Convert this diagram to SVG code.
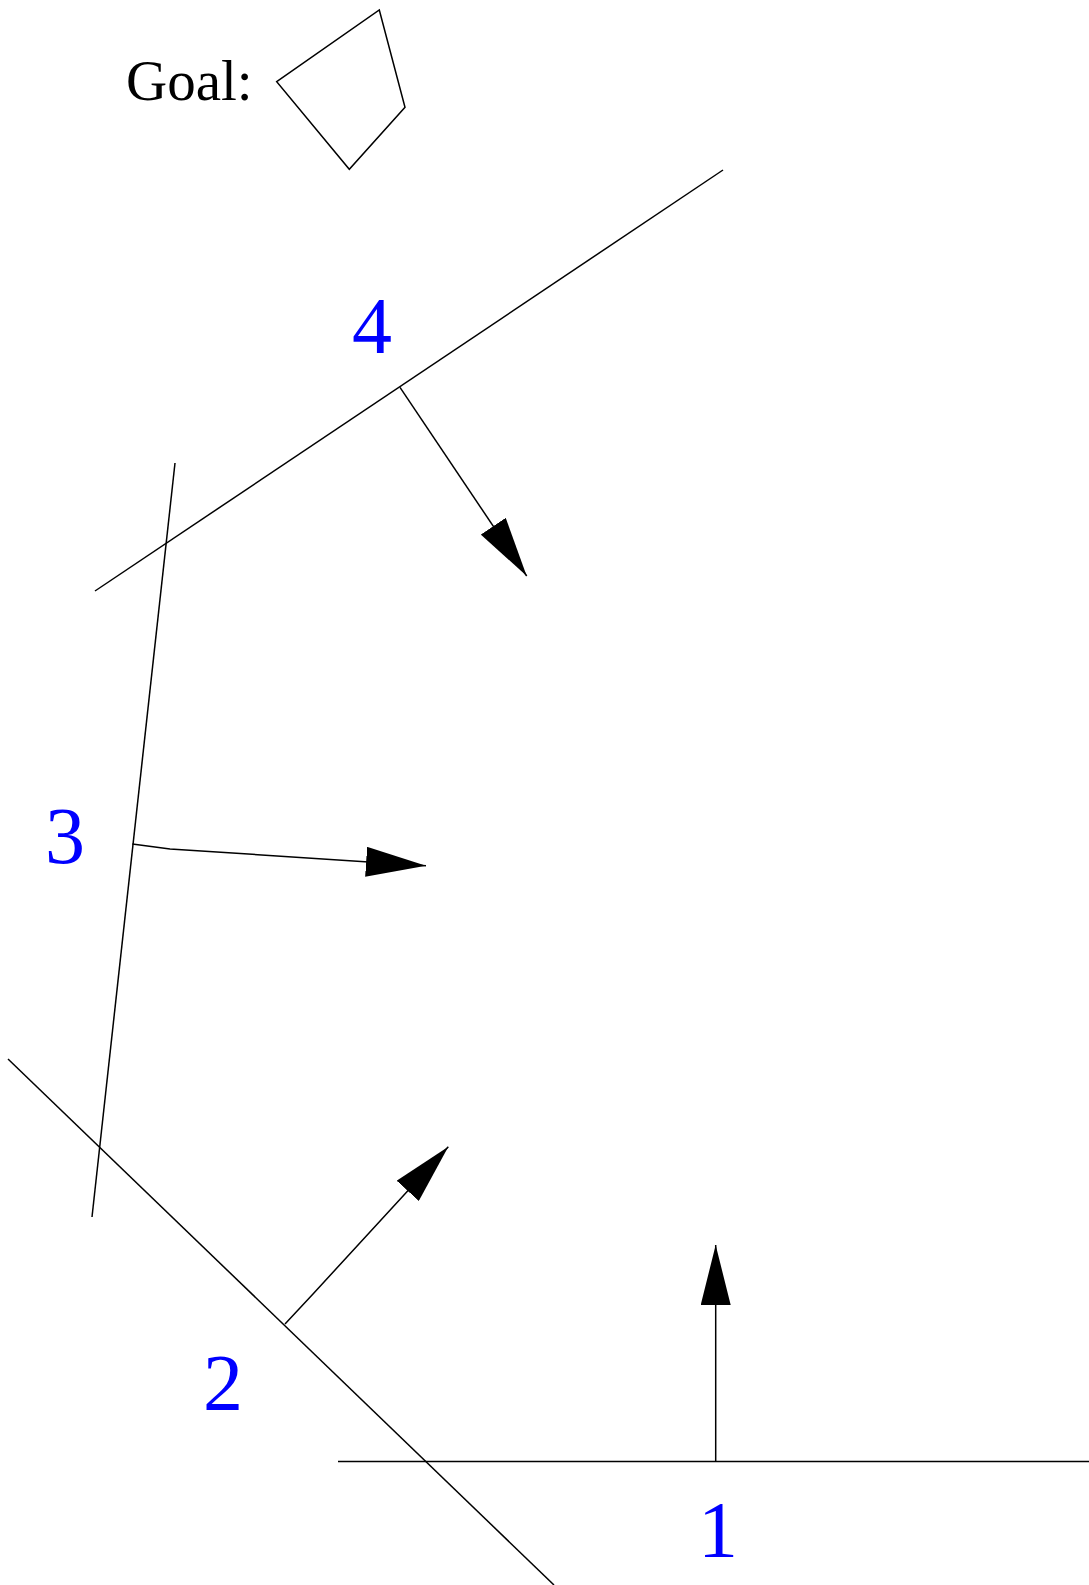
<svg xmlns="http://www.w3.org/2000/svg" width="1089" height="1585" viewBox="0 0 1089 1585">
<style>
.ln{fill:none;stroke:#000;stroke-width:1.5}
.arr{fill:none;stroke:#000;stroke-width:1.5;marker-end:url(#ah)}
.num{font-family:"Liberation Serif","DejaVu Serif",serif;font-size:80px;fill:#0000ff;text-anchor:middle}
.goal{font-family:"Liberation Serif","DejaVu Serif",serif;font-size:57px;fill:#000}
</style>
<defs>
<marker id="ah" viewBox="0 0 60 30" markerWidth="60" markerHeight="30" markerUnits="userSpaceOnUse" refX="60" refY="15" orient="auto">
<path d="M0,0 L60,15 L0,30 z" fill="#000"/>
</marker>
</defs>
<rect width="1089" height="1585" fill="#fff"/>
<g id="goal">
<text class="goal" x="126" y="100">Goal:</text>
<polygon class="ln" points="276.7,81.7 379.3,10 405,107.3 349.3,169.3"/>
</g>
<g id="half-plane-4">
<line class="ln" x1="95" y1="591" x2="723" y2="170"/>
<text class="num" x="372" y="353">4</text>
</g>
<g id="half-plane-3">
<line class="ln" x1="175" y1="463" x2="92" y2="1217"/>
<text class="num" x="65" y="863">3</text>
</g>
<g id="half-plane-2">
<line class="ln" x1="8" y1="1059" x2="554" y2="1585"/>
<text class="num" x="223" y="1410">2</text>
</g>
<g id="half-plane-1">
<line class="ln" x1="338" y1="1461.5" x2="1089" y2="1461.5"/>
<text class="num" x="718" y="1557">1</text>
</g>
<g id="connectors">
<polyline class="arr" points="400,387.3 526.7,576"/>
<polyline class="arr" points="132.3,844 170,849 426,865.7"/>
<polyline class="arr" points="285,1324 313,1294 448.3,1146.7"/>
<polyline class="arr" points="715.7,1461.5 715.7,1245"/>
</g>
</svg>
